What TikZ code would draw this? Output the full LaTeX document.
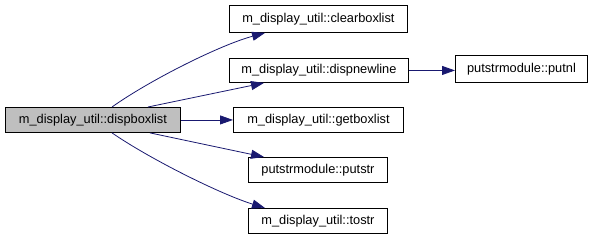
\documentclass[tikz,border=0pt]{standalone}
\usepackage{fontspec}
\setmainfont{Liberation Sans}
\usetikzlibrary{arrows.meta}
\definecolor{edgeblue}{HTML}{191970}
\definecolor{rootgrey}{HTML}{BFBFBF}
\begin{document}
\begin{tikzpicture}[x=1pt,y=-1pt,
  fn/.style={draw=black,fill=white,line width=0.9pt,inner sep=0pt,
    font=\fontsize{12.8}{14}\selectfont,anchor=north west},
  call/.style={draw=edgeblue,line width=0.8pt,
    -{Triangle[length=13pt,width=9pt,fill=edgeblue]}}]
\useasboundingbox (0,0) rectangle (595,240);
% caller
\node[fn,fill=rootgrey,minimum width=175pt,minimum height=25pt] (root) at (5,107) {m\_display\_util::dispboxlist};
% callees
\node[fn,minimum width=178pt,minimum height=27pt] (clear) at (229,5) {m\_display\_util::clearboxlist};
\node[fn,minimum width=179pt,minimum height=24pt] (newline) at (229,58) {m\_display\_util::dispnewline};
\node[fn,minimum width=170pt,minimum height=25pt] (get) at (233,107) {m\_display\_util::getboxlist};
\node[fn,minimum width=139pt,minimum height=25pt] (putstr) at (248,157) {putstrmodule::putstr};
\node[fn,minimum width=139pt,minimum height=25pt] (tostr) at (248,208) {m\_display\_util::tostr};
\node[fn,minimum width=132pt,minimum height=27pt] (putnl) at (455,55) {putstrmodule::putnl};
% call edges
\draw[call] (root.north -| 112,0) .. controls (150,80) and (220,45) .. (clear.south -| 265,0);
\draw[call] (root.north -| 148,0) -- (newline.south -| 264,0);
\draw[call] (root.east) -- (get.west);
\draw[call] (root.south -| 150,0) -- (putstr.north -| 264,0);
\draw[call] (root.south -| 112,0) .. controls (150,159) and (220,194) .. (tostr.north -| 265,0);
\draw[call] (newline.east) -- (newline.east -| putnl.west);
\end{tikzpicture}
\end{document}
